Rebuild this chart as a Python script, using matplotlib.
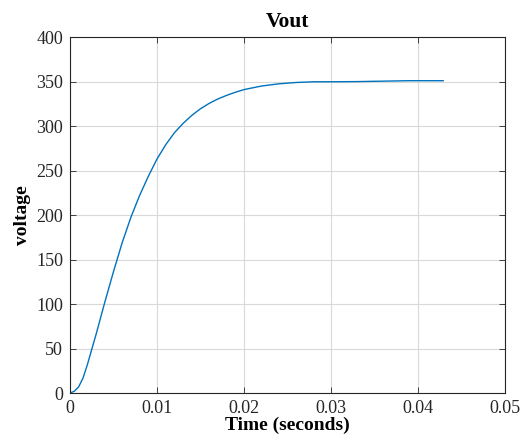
import matplotlib
matplotlib.use('Agg')
import matplotlib.pyplot as plt

# Vout step response
time_s = [0, 0.0005, 0.001, 0.0015, 0.002, 0.0025, 0.003, 0.0035, 0.004, 0.005,
          0.006, 0.007, 0.008, 0.009, 0.010, 0.011, 0.012, 0.013, 0.014, 0.015,
          0.016, 0.017, 0.018, 0.019, 0.020, 0.022, 0.024, 0.026, 0.028, 0.030,
          0.033, 0.036, 0.039, 0.0429]
vout = [0, 2, 7, 17, 32, 49, 66, 84, 102, 136.5,
        169, 197.5, 222, 243.5, 263, 279, 292.5, 303, 312, 319.5,
        325.5, 330.5, 334.5, 338, 341, 345, 347.5, 349, 349.8, 349.8,
        350, 350.5, 351, 351]

xticks = [0, 0.01, 0.02, 0.03, 0.04, 0.05]
xticklabels = ['0', '0.01', '0.02', '0.03', '0.04', '0.05']
yticks = [0, 50, 100, 150, 200, 250, 300, 350, 400]

plt.rcParams['font.family'] = ['Liberation Serif', 'DejaVu Serif']

fig = plt.figure(figsize=(5.24, 4.46), dpi=100)
ax = fig.add_axes([0.1336, 0.1188, 0.830, 0.798])
ax.plot(time_s, vout, color='#0072BD', lw=1.0)

ax.set_xlim(0, 0.05)
ax.set_ylim(0, 400)
ax.set_xticks(xticks)
ax.set_xticklabels(xticklabels)
ax.set_yticks(yticks)
ax.grid(True, color='#d9d9d9', lw=0.8)
ax.set_axisbelow(True)
ax.tick_params(direction='in', top=True, right=True, labelsize=13,
               colors='#262626', length=4, width=0.6, pad=5)
for s in ax.spines.values():
    s.set_color('#262626')
    s.set_linewidth(0.8)

ax.set_title('Vout', fontsize=15.5, fontweight='bold', pad=7)
ax.set_xlabel('Time (seconds)', fontsize=14, fontweight='bold', labelpad=0)
ax.set_ylabel('voltage', fontsize=14, fontweight='bold', labelpad=4)

plt.savefig('out.png', dpi=100)
plt.close()
